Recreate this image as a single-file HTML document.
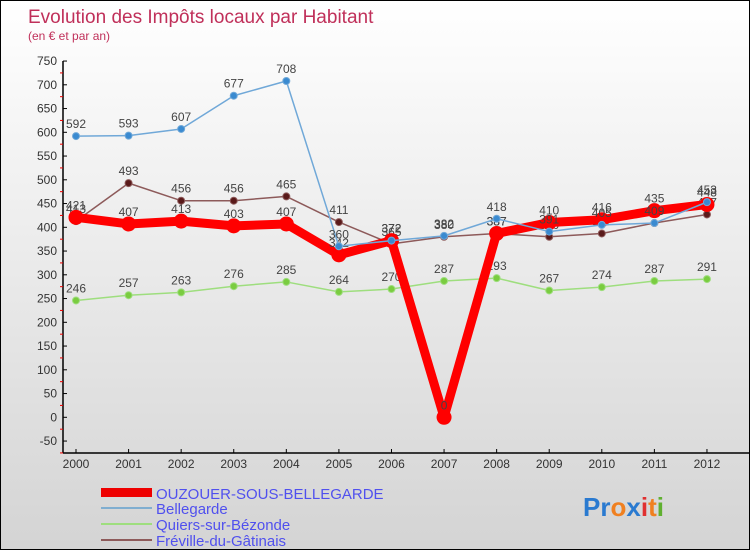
<!DOCTYPE html>
<html><head><meta charset="utf-8"><style>
body{margin:0}
#c{width:750px;height:550px;position:relative;overflow:hidden;background:linear-gradient(#ffffff,#d4d4d4);border:1px solid #000;box-sizing:border-box;font-family:"Liberation Sans",sans-serif}
</style></head><body>
<div id="c">
<svg id="s" width="750" height="550" style="position:absolute;left:0;top:0">
<text x="27" y="22" font-size="19" fill="#c0305a">Evolution des Impôts locaux par Habitant</text>
<text x="27" y="39" font-size="12" fill="#c0305a">(en € et par an)</text>
<g id="axes"></g><g id="series"></g>
<g font-size="15" fill="#5050ee">
<rect x="100" y="487" width="51" height="9" fill="#e00"/>
<text x="155" y="498">OUZOUER-SOUS-BELLEGARDE</text>
<rect x="100" y="506" width="51" height="2" fill="#80aed0"/>
<text x="155" y="513">Bellegarde</text>
<rect x="100" y="522" width="51" height="2" fill="#9ede7e"/>
<text x="155" y="529">Quiers-sur-Bézonde</text>
<rect x="100" y="538" width="51" height="2" fill="#8d5a5a"/>
<text x="155" y="545">Fréville-du-Gâtinais</text>
</g>
<text x="582" y="515" font-size="26" font-weight="bold"><tspan fill="#2a7ad0">Pr</tspan><tspan fill="#f08020">o</tspan><tspan fill="#2a7ad0">x</tspan><tspan fill="#e03030">i</tspan><tspan fill="#f08020">t</tspan><tspan fill="#60b030">i</tspan></text>
</svg>
</div>
<script>
const years=[2000,2001,2002,2003,2004,2005,2006,2007,2008,2009,2010,2011,2012];
const yTicks=[750,700,650,600,550,500,450,400,350,300,250,200,150,100,50,0,-50];
const ouzouer=[421,407,413,403,407,342,372,0,387,410,416,435,448];
const bellegarde=[592,593,607,677,708,360,372,382,418,391,405,409,453];
const quiers=[246,257,263,276,285,264,270,287,293,267,274,287,291];
const freville=[413,493,456,456,465,411,365,380,387,380,387,409,427];
const NS="http://www.w3.org/2000/svg";
const X=i=>75+i*52.58;
const Y=v=>416.3-v*0.475;
function mk(t,a,p){const e=document.createElementNS(NS,t);for(const k in a)e.setAttribute(k,a[k]);p.appendChild(e);return e;}
const ax=document.getElementById('axes');
const yl=mk('line',{x1:62,y1:60,x2:62,y2:452,stroke:'#000','stroke-width':1.5},ax);


yTicks.forEach(v=>{
 mk('line',{x1:62,x2:66,y1:Y(v),y2:Y(v),stroke:'#000'},ax);
 mk('line',{x1:59,x2:62,y1:Y(v-25),y2:Y(v-25),stroke:'#e00'},ax);
 const t=mk('text',{x:56,y:Y(v)+4,'text-anchor':'end','font-size':12,fill:'#333'},ax);
 t.textContent=v;
 
 
});
const xl=mk('line',{x1:62,y1:452,x2:750,y2:452,stroke:'#000','stroke-width':1.5},ax);


years.forEach((y,i)=>{
 mk('line',{x1:X(i),x2:X(i),y1:448,y2:452,stroke:'#000'},ax);
 const t=mk('text',{x:X(i),y:467,'text-anchor':'middle','font-size':12,fill:'#333'},ax);
 t.textContent=y;
 
 
});
const sg=document.getElementById('series');
function series(name,data,color,w,r,dot){
 const g=mk('g',{},sg);
 
 
 mk('polyline',{points:data.map((v,i)=>X(i)+','+Y(v)).join(' '),fill:'none',stroke:color,'stroke-width':w,'stroke-linejoin':'round'},g);
 data.forEach((v,i)=>{
  const c=mk('circle',{cx:X(i),cy:Y(v),r:r,fill:dot,stroke:color,'stroke-width':1},g);
  
  
  const t=mk('text',{x:X(i),y:Y(v)-8,'text-anchor':'middle','font-size':12,fill:'#444'},g);
  t.textContent=v;
  
  
 });
}
series('quiers',quiers,'#9ede7e',1.5,3.5,'#7acc40');
series('freville',freville,'#8d5a5a',1.5,3.5,'#5a1a1a');
series('ouzouer',ouzouer,'#f00',9,7,'#f00');
series('bellegarde',bellegarde,'#70a8d8',1.5,3.5,'#3a8ad0');
</script>
</body></html>
